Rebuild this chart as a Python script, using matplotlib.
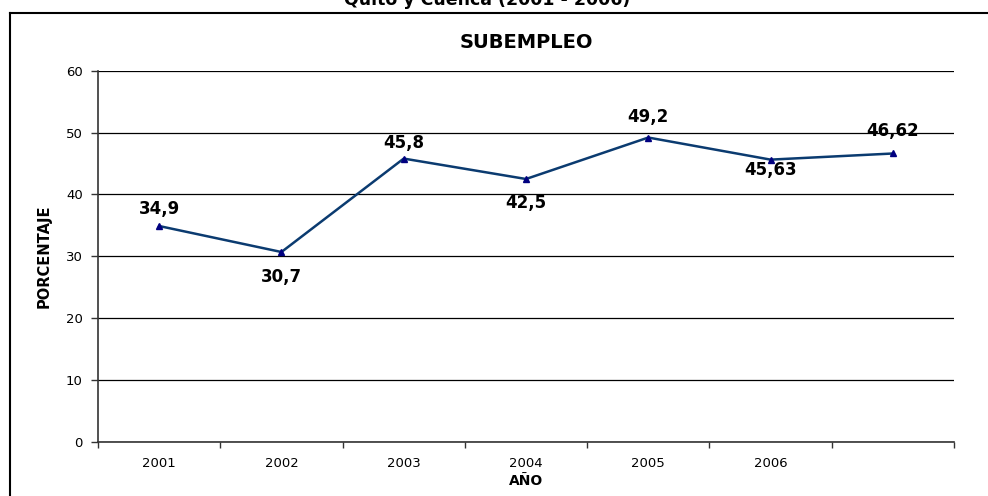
import matplotlib
matplotlib.use('Agg')
import matplotlib.pyplot as plt
from matplotlib.lines import Line2D

plt.rcParams['font.family'] = ['DejaVu Sans']

# subempleo por año (el ultimo punto no tiene etiqueta de año)
years = ['2001', '2002', '2003', '2004', '2005', '2006', '']
values = [34.9, 30.7, 45.8, 42.5, 49.2, 45.63, 46.62]
value_labels = ['34,9', '30,7', '45,8', '42,5', '49,2', '45,63', '46,62']
y_ticks = [0, 10, 20, 30, 40, 50, 60]

# desplazamiento vertical de cada etiqueta (pixeles, positivo = arriba)
label_dy = [17, -25, 16, -24, 21, -10, 22]

fig = plt.figure(figsize=(9.88, 4.96), dpi=100)
ax = fig.add_axes([98/988, 1 - 442/496, (954 - 98)/988, (442 - 70.7)/496])

x = list(range(1, len(values) + 1))
ax.plot(x, values, color='#0b3b70', lw=1.8, marker='^', ms=5,
        markerfacecolor='#000080', markeredgecolor='#000080', zorder=3)

for xi, v, lab, dy in zip(x, values, value_labels, label_dy):
    ax.annotate(lab, (xi, v), xytext=(0, dy), textcoords='offset pixels',
                ha='center', va='center', fontsize=12, fontweight='bold')

ax.set_xlim(0.5, len(values) + 0.5)
ax.set_ylim(0, 60)
ax.set_yticks(y_ticks)
ax.yaxis.grid(True, color='black', lw=0.9)
ax.set_axisbelow(True)

# ticks en los limites de cada categoria, etiquetas en el centro
ax.set_xticks([i + 0.5 for i in range(0, len(values) + 1)])
ax.set_xticklabels([])
ax.set_xticks(x, minor=True)
ax.set_xticklabels(years, minor=True)
ax.tick_params(axis='x', which='major', length=4, width=1, color='#333333')
ax.tick_params(axis='x', which='minor', length=0, pad=11, labelsize=9.5)
ax.tick_params(axis='y', length=5, width=1, color='#333333', pad=6, labelsize=9.5)

for s in ['top', 'right']:
    ax.spines[s].set_visible(False)
for s in ['left', 'bottom']:
    ax.spines[s].set_color('#333333')
    ax.spines[s].set_linewidth(1.2)

ax.set_title('SUBEMPLEO', fontsize=14, fontweight='bold', pad=16)
ax.set_ylabel('PORCENTAJE', fontsize=10.5, fontweight='bold', labelpad=10)
ax.set_xlabel('AÑO', fontsize=10, fontweight='bold', labelpad=3)

# marco del grafico (solo lados izquierdo y superior quedan visibles)
fig.add_artist(Line2D([10/988, 10/988], [0, 1 - 12.5/496], color='black', lw=1.5,
                      transform=fig.transFigure))
fig.add_artist(Line2D([10/988, 1], [1 - 12.5/496, 1 - 12.5/496], color='black', lw=1.5,
                      transform=fig.transFigure))

# titulo general, cortado por el borde superior
fig.text(0.493, 1 - 5/496, 'Quito y Cuenca (2001 - 2006)', ha='center', va='baseline',
         fontsize=12.5, fontweight='bold')

fig.savefig('out.png', dpi=100)
